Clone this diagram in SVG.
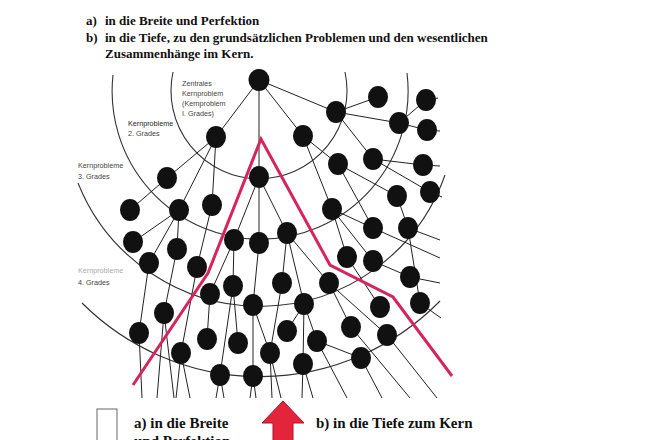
<svg xmlns="http://www.w3.org/2000/svg" width="660" height="440" viewBox="0 0 660 440">
<style>
.hd{font-family:"Liberation Serif","Times New Roman",serif;font-weight:bold;font-size:13px;fill:#111}
.lg{font-family:"Liberation Serif","Times New Roman",serif;font-weight:bold;font-size:15px;fill:#111}
.lb{font-family:"Liberation Sans",Arial,sans-serif;font-size:7.2px;fill:#444}
.faint{fill:#aaa}
.dark{fill:#222}
.arc{fill:none;stroke:#333;stroke-width:1.1}
.e{stroke:#222;stroke-width:1;fill:none}
.n{fill:#111}
</style>
<rect width="660" height="440" fill="#fff"/>
<g id="header">
<text class="hd" x="86" y="25">a)</text><text class="hd" x="105" y="25">in die Breite und Perfektion</text>
<text class="hd" x="86" y="42">b)</text><text class="hd" x="105" y="42">in die Tiefe, zu den grundsätzlichen Problemen und den wesentlichen</text>
<text class="hd" x="105" y="58">Zusammenhänge im Kern.</text>
</g>
<g id="rings">
<path class="arc" d="M173 72 A88 88 0 1 0 345 72"/>
<path class="arc" d="M113 75 A148 148 0 1 0 407 73"/>
<path class="arc" d="M78 183 A196 196 0 0 0 445 175"/>
<path class="arc" d="M82 303 A252 252 0 0 0 440 301"/>
</g>
<g id="labels">
<text class="lb" x="182" y="86">Zentrales</text>
<text class="lb" x="182" y="96">Kernproblem</text>
<text class="lb" x="182" y="106">(Kernproblem</text>
<text class="lb" x="182" y="116">I. Grades)</text>
<text class="lb dark" x="128" y="126">Kernprobleme</text>
<text class="lb" x="128" y="136">2. Grades</text>
<text class="lb" x="78" y="168">Kernprobleme</text>
<text class="lb" x="78" y="179">3. Grades</text>
<text class="lb faint" x="78" y="273">Kernprobleme</text>
<text class="lb" x="78" y="285">4. Grades</text>
</g>
<g id="connectors">
<path class="e" d="M259 80L216 137M259 80L303 136M259 80L336 112M259 80L259 177
M336 112L378 97M336 112L399 123M336 112L373 159M399 123L426 100M399 123L427 130
M303 136L338 164M303 136L332 209M338 164L397 196M338 164L373 228M373 159L423 165M373 159L430 192
M216 137L167 178M216 137L179 210M216 137L212 205M167 178L130 210
M179 210L133 242M179 210L177 249M179 210L149 263M212 205L197 267
M259 177L234 240M259 177L259 243M259 177L287 233
M234 240L210 294M234 240L233 286M259 243L253 305
M287 233L282 283M287 233L304 304M287 233L329 283
M332 209L373 228M332 209L347 257M332 209L373 261M373 261L410 277M347 257L380 307
M397 196L408 228M408 228L420 303
M329 283L351 327M329 283L387 335M304 304L287 331M304 304L317 341M304 304L303 364
M149 263L139 333M177 249L164 313M197 267L181 353M210 294L207 339
M233 286L238 343M233 286L220 375M253 305L270 353M253 305L253 376M282 283L270 353M317 341L361 358
M426 100L438 98M427 130L440 131M423 165L440 166M430 192L442 197M373 228L440 258M408 228L440 240M410 277L440 283M420 303L441 318
M139 333L142 398M164 313L157 398M164 313L174 398M181 353L176 398M181 353L190 398
M220 375L216 398M220 375L224 398M253 376L250 398M253 376L256 398M270 353L272 398M270 353L281 398
M303 364L302 398M303 364L313 398M317 341L347 398M361 358L382 398M351 327L410 398M387 335L437 398"/>
</g>
<g id="nodes">
<ellipse id="n0" class="n" cx="259" cy="80" rx="10.5" ry="11"/>
<ellipse id="n1" class="n" cx="216" cy="137" rx="10" ry="11"/>
<ellipse id="n2" class="n" cx="303" cy="136" rx="10" ry="11"/>
<ellipse id="n3" class="n" cx="336" cy="112" rx="10" ry="11"/>
<ellipse id="n4" class="n" cx="259" cy="177" rx="10" ry="11"/>
<ellipse id="n5" class="n" cx="378" cy="97" rx="10" ry="11"/>
<ellipse id="n6" class="n" cx="399" cy="123" rx="10" ry="11"/>
<ellipse id="n7" class="n" cx="426" cy="100" rx="10" ry="11"/>
<ellipse id="n8" class="n" cx="427" cy="130" rx="10" ry="11"/>
<ellipse id="n9" class="n" cx="338" cy="164" rx="10" ry="11"/>
<ellipse id="n10" class="n" cx="373" cy="159" rx="10" ry="11"/>
<ellipse id="n11" class="n" cx="423" cy="165" rx="10" ry="11"/>
<ellipse id="n12" class="n" cx="397" cy="196" rx="10" ry="11"/>
<ellipse id="n13" class="n" cx="430" cy="192" rx="10" ry="11"/>
<ellipse id="n14" class="n" cx="332" cy="209" rx="10" ry="11"/>
<ellipse id="n15" class="n" cx="167" cy="178" rx="10" ry="11"/>
<ellipse id="n16" class="n" cx="130" cy="210" rx="10" ry="11"/>
<ellipse id="n17" class="n" cx="179" cy="210" rx="10" ry="11"/>
<ellipse id="n18" class="n" cx="212" cy="205" rx="10" ry="11"/>
<ellipse id="n19" class="n" cx="234" cy="240" rx="10" ry="11"/>
<ellipse id="n20" class="n" cx="259" cy="243" rx="10" ry="11"/>
<ellipse id="n21" class="n" cx="287" cy="233" rx="10" ry="11"/>
<ellipse id="n22" class="n" cx="133" cy="242" rx="10" ry="11"/>
<ellipse id="n23" class="n" cx="177" cy="249" rx="10" ry="11"/>
<ellipse id="n24" class="n" cx="149" cy="263" rx="10" ry="11"/>
<ellipse id="n25" class="n" cx="197" cy="267" rx="10" ry="11"/>
<ellipse id="n26" class="n" cx="373" cy="228" rx="10" ry="11"/>
<ellipse id="n27" class="n" cx="408" cy="228" rx="10" ry="11"/>
<ellipse id="n28" class="n" cx="347" cy="257" rx="10" ry="11"/>
<ellipse id="n29" class="n" cx="373" cy="261" rx="10" ry="11"/>
<ellipse id="n30" class="n" cx="410" cy="277" rx="10" ry="11"/>
<ellipse id="n31" class="n" cx="282" cy="283" rx="10" ry="11"/>
<ellipse id="n32" class="n" cx="329" cy="283" rx="10" ry="11"/>
<ellipse id="n33" class="n" cx="210" cy="294" rx="10" ry="11"/>
<ellipse id="n34" class="n" cx="233" cy="286" rx="10" ry="11"/>
<ellipse id="n35" class="n" cx="253" cy="305" rx="10" ry="11"/>
<ellipse id="n36" class="n" cx="304" cy="304" rx="10" ry="11"/>
<ellipse id="n37" class="n" cx="380" cy="307" rx="10" ry="11"/>
<ellipse id="n38" class="n" cx="420" cy="303" rx="10" ry="11"/>
<ellipse id="n39" class="n" cx="164" cy="313" rx="10" ry="11"/>
<ellipse id="n40" class="n" cx="139" cy="333" rx="10" ry="11"/>
<ellipse id="n41" class="n" cx="207" cy="339" rx="10" ry="11"/>
<ellipse id="n42" class="n" cx="238" cy="343" rx="10" ry="11"/>
<ellipse id="n43" class="n" cx="287" cy="331" rx="10" ry="11"/>
<ellipse id="n44" class="n" cx="317" cy="341" rx="10" ry="11"/>
<ellipse id="n45" class="n" cx="351" cy="327" rx="10" ry="11"/>
<ellipse id="n46" class="n" cx="387" cy="335" rx="10" ry="11"/>
<ellipse id="n47" class="n" cx="181" cy="353" rx="10" ry="11"/>
<ellipse id="n48" class="n" cx="220" cy="375" rx="10" ry="11"/>
<ellipse id="n49" class="n" cx="253" cy="376" rx="10" ry="11"/>
<ellipse id="n50" class="n" cx="270" cy="353" rx="10" ry="11"/>
<ellipse id="n51" class="n" cx="303" cy="364" rx="10" ry="11"/>
<ellipse id="n52" class="n" cx="361" cy="358" rx="10" ry="11"/>
</g>
<g id="red-path">
<polyline points="133,385 208,273 261,139 330,265 393,297 452,376" fill="none" stroke="#d6245e" stroke-width="3" stroke-linejoin="miter"/>
</g>
<g id="legend">
<rect x="97" y="409" width="20" height="40" fill="#fff" stroke="#666" stroke-width="1"/>
<text class="lg" x="134" y="428">a) in die Breite</text>
<text class="lg" x="134" y="446">und Perfektion</text>
<polygon points="283,401 304,423 293,423 293,445 273,445 273,423 262,423" fill="#e3243b" stroke="#b0102a" stroke-width="1"/>
<text class="lg" x="316" y="428">b) in die Tiefe zum Kern</text>
</g>
</svg>
